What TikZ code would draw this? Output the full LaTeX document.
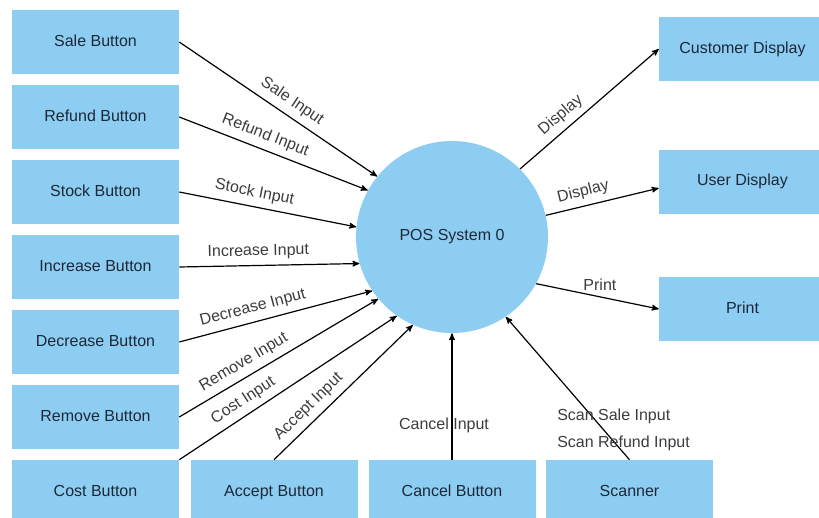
\documentclass[tikz,border=0pt]{standalone}
\usepackage{fontspec}
\setmainfont{Liberation Sans}
\usetikzlibrary{shapes}
\usetikzlibrary{arrows}

\definecolor{dfdblue}{RGB}{142,205,242}
\definecolor{dfdtext}{RGB}{28,40,56}
\definecolor{dfdlabel}{RGB}{60,60,60}

\begin{document}
\begin{tikzpicture}[x=0.75pt,y=-0.75pt]
			\tikzstyle{entity}=[rectangle,fill=dfdblue,minimum width=125.25pt,minimum height=48pt,inner sep=0pt,text height=8.6pt,text depth=2.6pt,text=dfdtext,font=\fontsize{12}{14}\selectfont]
			\tikzstyle{process}=[circle,fill=dfdblue,minimum size=144pt,inner sep=0pt,text=dfdtext,font=\fontsize{12}{14}\selectfont]
			\tikzstyle{flow}=[->,>=stealth',line width=0.9pt]
			\tikzstyle{lbl}=[text=dfdlabel,inner sep=4.5pt,font=\fontsize{12}{14}\selectfont]
			
			\useasboundingbox (0,0) rectangle (819,518);
			\clip (0,0) rectangle (819,518);
			
			\node[entity] (sale) at (95.5,42) {Sale Button};
			\node[entity] (refund) at (95.5,117) {Refund Button};
			\node[entity] (stock) at (95.5,192) {Stock Button};
			\node[entity] (increase) at (95.5,267) {Increase Button};
			\node[entity] (decrease) at (95.5,342) {Decrease Button};
			\node[entity] (remove) at (95.5,417) {Remove Button};
			\node[entity] (cost) at (95.5,492) {Cost Button};
			\node[entity] (accept) at (274,492) {Accept Button};
			\node[entity] (cancel) at (452,492) {Cancel Button};
			\node[entity] (scanner) at (629.5,492) {Scanner};
			\node[entity] (custdisp) at (742.5,49) {Customer Display};
			\node[entity] (userdisp) at (742.5,181.5) {User Display};
			\node[entity] (print) at (742.5,309) {Print};
			\node[process] (pos) at (452,237) {POS System 0};
			
			\draw[flow] (sale.east) -- node[lbl,sloped,above,pos=.53] {Sale Input} (pos.141);
			\draw[flow] (refund.east) -- node[lbl,sloped,above,pos=.43] {Refund Input} (pos.151);
			\draw[flow] (stock.east) -- node[lbl,sloped,above,pos=.41] {Stock Input} (pos.174);
			\draw[flow] (increase.east) -- node[lbl,sloped,above,pos=.44] {Increase Input} (pos.196);
			\draw[flow] (decrease.east) -- node[lbl,sloped,above,pos=.4] {Decrease Input} (pos.214);
			\draw[flow] (remove.east) -- node[lbl,sloped,above,pos=.36] {Remove Input} (pos.220);
			\draw[flow] (cost.north east) -- node[lbl,sloped,above,pos=.33] {Cost Input} (pos.235);
			\draw[flow] (accept.north) -- node[lbl,sloped,above,pos=.32] {Accept Input} (pos.246);
			\draw[flow] (cancel.north) -- node[lbl,pos=.27,xshift=-6pt] {Cancel Input} (pos.270);
			\draw[flow] (scanner.north) -- node[lbl,pos=.21,xshift=15pt,align=left] {Scan Sale Input\\[6pt]Scan Refund Input} (pos.304);
			\draw[flow] (pos.45) -- node[lbl,sloped,above,pos=.36] {Display} (custdisp.west);
			\draw[flow] (pos.13) -- node[lbl,sloped,above,pos=.36] {Display} ([yshift=-5pt]userdisp.west);
			\draw[flow] (pos.331) -- node[lbl,above,pos=.52] {Print} (print.west);
\end{tikzpicture}
\end{document}
